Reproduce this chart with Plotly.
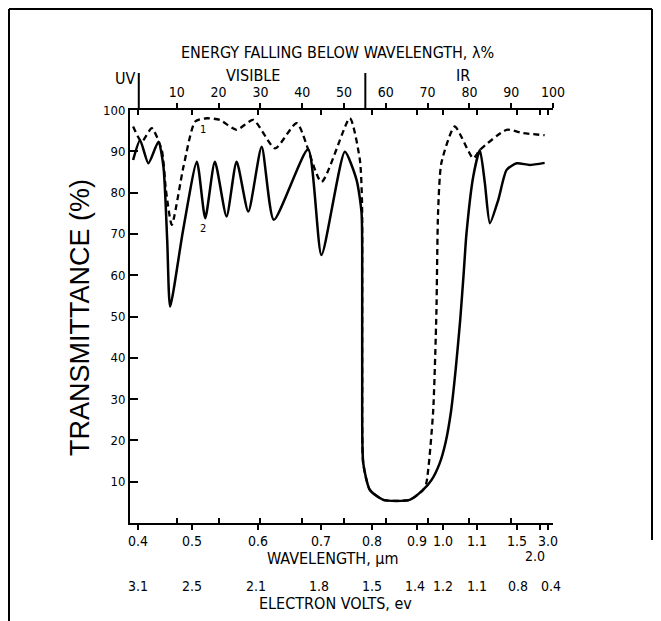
import plotly.graph_objects as go

# ---------------- data ----------------
# x values are in "energy falling below wavelength, %" (the linear top scale)
curve1_x = [-0.45, 1.6, 4.0, 6.4, 7.4, 8.8, 11.6, 14.4, 17.2, 20.3, 24.3, 28.3, 33.5, 38.7,
            44.6, 51.4, 53.8, 54.3, 54.35, 54.35, 54.6, 56.2, 59.4, 65.7, 68.9, 69.7, 71.3,
            72.1, 72.5, 73.3, 76.5, 80.9, 82.5, 88.9, 92.8, 98.0]
curve1_y = [96.0, 92.3, 95.6, 90.3, 80.6, 72.2, 86.3, 97.2, 98.0, 97.6, 95.2, 97.6, 90.7, 96.8,
            82.6, 98.0, 87.9, 78.2, 58.8, 34.6, 14.5, 8.0, 5.6, 5.6, 8.0, 9.7, 26.6,
            50.8, 75.1, 87.2, 96.0, 88.3, 90.3, 95.2, 94.4, 93.9]

curve2_x = [-0.45, 1.2, 3.2, 5.6, 6.8, 7.7, 8.4, 11.5, 14.8, 16.8, 19.1, 21.9, 24.3, 27.1,
            30.3, 33.2, 41.4, 44.6, 50.2, 53.0, 54.2, 54.35, 54.35, 54.6, 56.2, 59.4, 65.7,
            68.9, 71.0, 72.9, 74.3, 75.6, 76.7, 77.8, 78.6, 79.3, 80.9, 82.5, 83.7, 84.9,
            86.9, 88.9, 91.3, 94.4, 98.0]
curve2_y = [87.9, 92.7, 87.1, 92.3, 86.3, 68.5, 52.4, 70.9, 87.5, 73.8, 87.5, 74.2, 87.5, 75.4,
            91.1, 73.4, 90.5, 64.9, 89.9, 83.1, 75.1, 58.8, 34.6, 14.5, 8.0, 5.6, 5.6,
            8.0, 10.5, 14.5, 19.5, 27.0, 37.0, 49.2, 60.0, 70.1, 83.8, 90.3, 82.3, 72.6,
            78.2, 85.5, 87.1, 86.7, 87.2]

energy_ticks = [10, 20, 30, 40, 50, 60, 70, 80, 90, 100]
energy_labels = ["10", "20", "30", "40", "50", "60", "70", "80", "90", "100"]

wl_pos = [0.67, 13.6, 29.5, 44.5, 56.6, 67.5, 73.7, 81.7, 91.3, 96.8, 98.8]
wl_labels = ["0.4", "0.5", "0.6", "0.7", "0.8", "0.9", "1.0", "1.1", "1.5", "2.0", "3.0"]

ev_pos = [0.67, 13.6, 29.0, 44.0, 56.6, 67.0, 73.7, 81.7, 91.6, 99.6]
ev_labels = ["3.1", "2.5", "2.1", "1.8", "1.5", "1.4", "1.2", "1.1", "0.8", "0.4"]

y_ticks = [10, 20, 30, 40, 50, 60, 70, 80, 90, 100]
y_labels = ["10", "20", "30", "40", "50", "60", "70", "80", "90", "100"]

band_bounds = [0.9, 55.1]   # UV|visible and visible|IR separators (energy %)

# ---------------- figure ----------------
NARROW = "Liberation Sans Narrow, DejaVu Sans Condensed, Arial Narrow, sans-serif"
OFF = 8                       # page body margin of the html page
W, H = 661 - OFF, 621 - OFF
L, R, T, B = 130 - OFF, 553 - OFF, 110 - OFF, 523 - OFF
XR = [-1.2, 100]

fig = go.Figure()
fig.add_trace(go.Scatter(x=curve1_x, y=curve1_y, mode="lines",
                         line=dict(color="black", width=2.3, dash="6px,4px", shape="spline", smoothing=0.6),
                         hoverinfo="skip", showlegend=False))
fig.add_trace(go.Scatter(x=curve2_x, y=curve2_y, mode="lines",
                         line=dict(color="black", width=2.5, shape="spline", smoothing=0.6),
                         hoverinfo="skip", showlegend=False))
for ax in ["x2", "x3", "x4"]:
    fig.add_trace(go.Scatter(x=[None], y=[None], xaxis=ax, yaxis="y", mode="lines",
                             hoverinfo="skip", showlegend=False))

common = dict(range=XR, showgrid=False, zeroline=False, fixedrange=True)
fig.update_layout(
    width=W, height=H,
    margin=dict(l=L, r=W - R, t=T, b=H - B),
    paper_bgcolor="white", plot_bgcolor="white",
    font=dict(family=NARROW, color="black", size=13),
    xaxis=dict(**common, side="bottom", showline=True, linecolor="black", linewidth=2,
               ticks="outside", ticklen=5, tickwidth=1.5, tickcolor="black",
               tickvals=wl_pos, showticklabels=False),
    xaxis3=dict(**common, overlaying="x", side="bottom", anchor="y", showline=False,
                ticks="inside", ticklen=5, tickwidth=1.5, tickcolor="black",
                tickvals=energy_ticks, showticklabels=False),
    xaxis2=dict(**common, overlaying="x", side="top", anchor="y", showline=True,
                linecolor="black", linewidth=2,
                ticks="outside", ticklen=5, tickwidth=1.5, tickcolor="black",
                tickvals=energy_ticks, ticktext=energy_labels,
                tickfont=dict(size=14, family=NARROW)),
    xaxis4=dict(**common, overlaying="x", side="top", anchor="y", showline=False,
                ticks="inside", ticklen=5, tickwidth=1.5, tickcolor="black",
                tickvals=wl_pos, showticklabels=False),
    yaxis=dict(range=[0, 100], showgrid=False, zeroline=False, fixedrange=True,
               showline=True, linecolor="black", linewidth=2,
               ticks="inside", ticklen=8, tickwidth=1.5, tickcolor="black",
               tickvals=y_ticks, ticktext=y_labels, tickfont=dict(size=13, family=NARROW)),
)

def px2paper(px, py):
    return (px - OFF - L) / (R - L), (B - (py - OFF)) / (B - T)

ann = []
def add_text(text, px, py, size, family=NARROW, angle=0):
    xp, yp = px2paper(px, py)
    ann.append(dict(text=text, x=xp, y=yp, xref="paper", yref="paper", showarrow=False,
                    xanchor="center", yanchor="middle", textangle=angle,
                    font=dict(size=size, family=family, color="black")))

add_text("ENERGY FALLING BELOW WAVELENGTH, λ%", 337, 53, 16)
add_text("UV", 125, 78, 16)
add_text("VISIBLE", 253, 75, 16)
add_text("IR", 463, 75, 16)
add_text("TRANSMITTANCE (%)", 80, 318, 27, family="Liberation Sans, Arial, sans-serif", angle=-90)
add_text("WAVELENGTH, μm", 333, 558, 16)
add_text("ELECTRON VOLTS, ev", 335, 603, 16)
add_text("1", 203, 130, 11)
add_text("2", 203, 228, 11)

# wavelength tick labels (the 2.0 label sits on a second row, as in the original)
for p, t in zip(wl_pos, wl_labels):
    ty = 556 if t == "2.0" else 541
    ann.append(dict(text=t, x=p - (1.0 if t == "2.0" else 0), y=px2paper(0, ty)[1], xref="x",
                    yref="paper", showarrow=False, xanchor="center", yanchor="middle",
                    font=dict(size=14, family=NARROW)))
for p, t in zip(ev_pos, ev_labels):
    ann.append(dict(text=t, x=p, y=px2paper(0, 586)[1], xref="x", yref="paper", showarrow=False,
                    xanchor="center", yanchor="middle", font=dict(size=14, family=NARROW)))
fig.update_layout(annotations=ann)

shapes = []
y_top = px2paper(0, 73)[1]
for b in band_bounds:
    shapes.append(dict(type="line", xref="x", yref="paper", x0=b, x1=b, y0=1, y1=y_top,
                       line=dict(color="black", width=2)))
# outer frame
fx0, fy0 = px2paper(9, 9)
fx1, fy1 = px2paper(652, 621)
fy_r = px2paper(0, 540)[1]
shapes.append(dict(type="line", xref="paper", yref="paper", x0=fx0, x1=fx0, y0=fy0, y1=fy1,
                   line=dict(color="black", width=2)))
shapes.append(dict(type="line", xref="paper", yref="paper", x0=fx0, x1=fx1, y0=fy0, y1=fy0,
                   line=dict(color="black", width=2)))
shapes.append(dict(type="line", xref="paper", yref="paper", x0=fx1, x1=fx1, y0=fy0, y1=fy_r,
                   line=dict(color="black", width=2)))
fig.update_layout(shapes=shapes)

fig.write_html("out.html")
